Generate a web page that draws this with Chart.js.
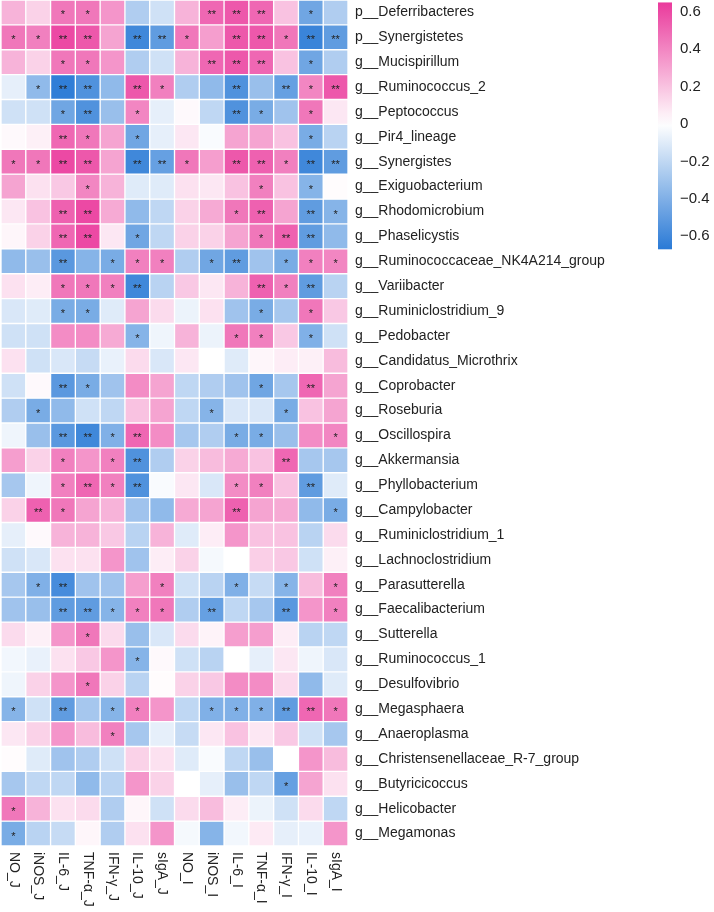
<!DOCTYPE html>
<html>
<head>
<meta charset="utf-8">
<script src="https://cdn.jsdelivr.net/npm/chart.js@4.4.1/dist/chart.umd.min.js"></script>
<style>
  html, body { margin: 0; padding: 0; background: #ffffff; }
  #wrap { width: 714px; height: 912px; position: relative; }
</style>
</head>
<body>
<div id="wrap"><canvas id="heatmap"></canvas></div>
<script>
"use strict";

const colLabels = ["NO_J", "iNOS_J", "IL-6_J", "TNF-α_J", "IFN-γ_J", "IL-10_J", "sIgA_J",
  "NO_I", "iNOS_I", "IL-6_I", "TNF-α_I", "IFN-γ_I", "IL-10_I", "sIgA_I"];

const rowLabels = [
  "p__Deferribacteres", "p__Synergistetes", "g__Mucispirillum", "g__Ruminococcus_2",
  "g__Peptococcus", "g__Pir4_lineage", "g__Synergistes", "g__Exiguobacterium",
  "g__Rhodomicrobium", "g__Phaselicystis", "g__Ruminococcaceae_NK4A214_group", "g__Variibacter",
  "g__Ruminiclostridium_9", "g__Pedobacter", "g__Candidatus_Microthrix", "g__Coprobacter",
  "g__Roseburia", "g__Oscillospira", "g__Akkermansia", "g__Phyllobacterium",
  "g__Campylobacter", "g__Ruminiclostridium_1", "g__Lachnoclostridium", "g__Parasutterella",
  "g__Faecalibacterium", "g__Sutterella", "g__Ruminococcus_1", "g__Desulfovibrio",
  "g__Megasphaera", "g__Anaeroplasma", "g__Christensenellaceae_R-7_group", "g__Butyricicoccus",
  "g__Helicobacter", "g__Megamonas"
];

// correlation values, one row per genus, columns as colLabels
const corr = [
  [0.25, 0.15, 0.45, 0.45, 0.35, -0.25, -0.15, 0.25, 0.5, 0.55, 0.5, 0.2, -0.45, -0.25],
  [0.45, 0.42, 0.6, 0.55, 0.3, -0.6, -0.5, 0.45, 0.32, 0.55, 0.55, 0.45, -0.62, -0.5],
  [0.25, 0.15, 0.45, 0.45, 0.35, -0.25, -0.15, 0.25, 0.5, 0.55, 0.5, 0.2, -0.45, -0.25],
  [-0.08, -0.35, -0.65, -0.55, -0.35, 0.55, 0.42, -0.25, -0.35, -0.55, -0.32, -0.48, 0.4, 0.55],
  [-0.15, -0.15, -0.45, -0.55, -0.32, 0.4, -0.08, 0.02, -0.2, -0.55, -0.42, -0.3, 0.45, 0.08],
  [0.02, 0.05, 0.5, 0.45, 0.3, -0.45, -0.08, 0.08, -0.02, 0.3, 0.3, 0.2, -0.42, -0.22],
  [0.45, 0.45, 0.6, 0.55, 0.3, -0.6, -0.48, 0.45, 0.32, 0.55, 0.52, 0.42, -0.6, -0.5],
  [0.3, 0.1, 0.18, 0.4, 0.25, -0.1, -0.1, 0.1, 0.08, 0.2, 0.42, 0.2, -0.38, 0.01],
  [0.08, 0.2, 0.52, 0.6, 0.28, -0.35, -0.2, 0.15, 0.28, 0.45, 0.52, 0.3, -0.5, -0.38],
  [0.03, 0.15, 0.5, 0.6, 0.08, -0.45, -0.2, 0.15, 0.15, 0.3, 0.45, 0.52, -0.5, -0.35],
  [-0.35, -0.32, -0.52, -0.38, -0.42, 0.42, 0.42, -0.25, -0.45, -0.5, -0.3, -0.42, 0.42, 0.4],
  [0.1, 0.06, 0.45, 0.45, 0.42, -0.6, -0.22, 0.18, 0.08, 0.25, 0.52, 0.42, -0.5, -0.22],
  [-0.12, -0.1, -0.42, -0.42, -0.1, 0.3, 0.12, -0.06, 0.1, -0.3, -0.42, -0.28, 0.45, 0.18],
  [-0.15, -0.15, 0.38, 0.38, 0.28, -0.38, -0.05, 0.25, -0.06, 0.45, 0.42, 0.18, -0.4, -0.15],
  [0.1, -0.15, -0.12, -0.18, -0.07, 0.12, -0.12, 0.08, 0.0, -0.1, 0.03, 0.06, 0.05, 0.22],
  [-0.15, 0.02, -0.52, -0.42, -0.3, 0.38, 0.3, -0.2, -0.25, -0.3, -0.45, -0.28, 0.5, 0.3],
  [-0.25, -0.42, -0.35, -0.15, -0.2, 0.2, 0.3, -0.2, -0.38, -0.12, -0.12, -0.42, 0.2, 0.3],
  [-0.05, -0.32, -0.52, -0.6, -0.4, 0.5, 0.38, -0.28, -0.25, -0.42, -0.42, -0.32, 0.38, 0.4],
  [0.32, 0.15, 0.42, 0.35, 0.42, -0.55, -0.25, 0.15, 0.22, 0.28, 0.2, 0.5, -0.28, -0.28],
  [-0.28, -0.05, 0.42, 0.5, 0.42, -0.55, -0.02, 0.08, -0.12, 0.38, 0.42, 0.2, -0.5, -0.1],
  [0.15, 0.52, 0.45, 0.3, 0.25, -0.3, -0.35, 0.28, 0.3, 0.52, 0.3, 0.28, -0.35, -0.42],
  [-0.08, 0.02, 0.25, 0.25, 0.18, -0.22, 0.25, -0.1, 0.06, 0.35, 0.2, 0.2, -0.22, 0.12],
  [-0.15, -0.12, 0.1, 0.1, 0.35, -0.3, 0.06, 0.15, -0.03, 0.0, 0.16, 0.18, -0.15, 0.05],
  [-0.28, -0.4, -0.58, -0.3, -0.3, 0.32, 0.42, -0.15, -0.22, -0.4, -0.18, -0.38, 0.22, 0.42],
  [-0.3, -0.32, -0.5, -0.5, -0.38, 0.42, 0.45, -0.25, -0.48, -0.2, -0.28, -0.52, 0.35, 0.42],
  [0.12, 0.05, 0.35, 0.45, 0.12, -0.32, -0.12, 0.12, 0.04, 0.32, 0.32, 0.06, -0.22, -0.2],
  [-0.04, -0.07, 0.1, 0.18, 0.35, -0.38, 0.02, -0.15, -0.22, 0.0, -0.08, 0.08, -0.05, -0.12],
  [-0.05, 0.15, 0.35, 0.45, 0.15, -0.22, 0.01, 0.15, 0.18, 0.38, 0.38, 0.12, -0.35, -0.1],
  [-0.38, -0.15, -0.5, -0.28, -0.38, 0.42, 0.35, -0.2, -0.4, -0.4, -0.4, -0.5, 0.5, 0.45],
  [0.08, 0.15, 0.35, 0.22, 0.42, -0.28, -0.08, -0.18, 0.08, 0.2, 0.08, 0.18, -0.15, -0.28],
  [0.01, -0.1, -0.3, -0.25, -0.15, 0.15, 0.1, -0.1, -0.02, -0.2, -0.32, 0.0, 0.35, 0.22],
  [-0.28, -0.2, -0.2, -0.35, -0.22, 0.35, 0.15, 0.0, -0.08, -0.32, -0.2, -0.48, 0.3, 0.1],
  [0.45, 0.25, 0.1, 0.12, -0.25, 0.03, -0.15, 0.12, 0.22, 0.06, -0.06, -0.15, 0.12, -0.2],
  [-0.42, -0.22, -0.18, 0.03, -0.25, 0.1, 0.35, -0.03, -0.38, -0.04, 0.07, -0.08, -0.07, 0.35]
];

// significance marks per row ("-" = none)
const stars = [
  "- - * * - - - - ** ** ** - * -",
  "* * ** ** - ** ** * - ** ** * ** **",
  "- - * * - - - - ** ** ** - * -",
  "- * ** ** - ** * - - ** - ** * **",
  "- - * ** - * - - - ** * - * -",
  "- - ** * - * - - - - - - * -",
  "* * ** ** - ** ** * - ** ** * ** **",
  "- - - * - - - - - - * - * -",
  "- - ** ** - - - - - * ** - ** *",
  "- - ** ** - * - - - - * ** ** -",
  "- - ** - * * * - * ** - * * *",
  "- - * * * ** - - - - ** * ** -",
  "- - * * - - - - - - * - * -",
  "- - - - - * - - - * * - * -",
  "- - - - - - - - - - - - - -",
  "- - ** * - - - - - - * - ** -",
  "- * - - - - - - * - - * - -",
  "- - ** ** * ** - - - * * - - *",
  "- - * - * ** - - - - - ** - -",
  "- - * ** * ** - - - * * - ** -",
  "- ** * - - - - - - ** - - - *",
  "- - - - - - - - - - - - - -",
  "- - - - - - - - - - - - - -",
  "- * ** - - - * - - * - * - *",
  "- - ** ** * * * - ** - - ** - *",
  "- - - * - - - - - - - - - -",
  "- - - - - * - - - - - - - -",
  "- - - * - - - - - - - - - -",
  "* - ** - * * - - * * * ** ** *",
  "- - - - * - - - - - - - - -",
  "- - - - - - - - - - - - - -",
  "- - - - - - - - - - - * - -",
  "* - - - - - - - - - - - - -",
  "* - - - - - - - - - - - - -"
].map((s) => s.split(" ").map((t) => (t === "-" ? "" : t)));

const cbTicks = [0.6, 0.4, 0.2, 0, -0.2, -0.4, -0.6];

const vMin = -0.67;
const vMax = 0.65;
const negEnd = [42, 122, 214];
const posEnd = [234, 58, 156];

function colorFor(v) {
  const end = v < 0 ? negEnd : posEnd;
  let t = v < 0 ? v / vMin : v / vMax;
  t = Math.max(0, Math.min(1, t));
  const c = end.map((e) => Math.round(255 + (e - 255) * t));
  return `rgb(${c[0]}, ${c[1]}, ${c[2]})`;
}

const FONT = "'Liberation Sans', Arial, sans-serif";

// asterisks in the cells
const starPlugin = {
  id: "stars",
  afterDatasetsDraw(chart) {
    const { ctx, scales } = chart;
    ctx.save();
    ctx.fillStyle = "#222222";
    ctx.font = `11px ${FONT}`;
    ctx.textAlign = "center";
    ctx.textBaseline = "middle";
    stars.forEach((row, r) => {
      row.forEach((s, c) => {
        if (!s) return;
        const x = scales.x.getPixelForValue(c);
        const y = scales.y.getPixelForValue(r + 0.5);
        ctx.fillText(s, x, y + 3);
      });
    });
    ctx.restore();
  },
};

// column labels, rotated clockwise like the reference
const colLabelPlugin = {
  id: "colLabels",
  afterDraw(chart) {
    const { ctx, scales, chartArea } = chart;
    ctx.save();
    ctx.fillStyle = "#222222";
    ctx.font = `14px ${FONT}`;
    ctx.textAlign = "left";
    ctx.textBaseline = "middle";
    colLabels.forEach((label, i) => {
      const x = scales.x.getPixelForValue(i);
      ctx.save();
      ctx.translate(x, chartArea.bottom + 6);
      ctx.rotate(Math.PI / 2);
      ctx.fillText(label, 0, 0);
      ctx.restore();
    });
    ctx.restore();
  },
};

// colour bar on the right
const colorBarPlugin = {
  id: "colorBar",
  afterDraw(chart) {
    const { ctx } = chart;
    const left = 658;
    const barW = 14;
    const zeroY = 124;
    const perUnit = 187;
    const top = zeroY - vMax * perUnit;
    const bottom = zeroY - vMin * perUnit;

    const grad = ctx.createLinearGradient(0, top, 0, bottom);
    for (let i = 0; i <= 20; i++) {
      const v = vMax + (vMin - vMax) * (i / 20);
      grad.addColorStop(i / 20, colorFor(v));
    }
    ctx.save();
    ctx.fillStyle = grad;
    ctx.fillRect(left, top, barW, bottom - top);

    ctx.fillStyle = "#222222";
    ctx.font = `15px ${FONT}`;
    ctx.textAlign = "left";
    ctx.textBaseline = "middle";
    cbTicks.forEach((v) => {
      const txt = v < 0 ? "\u2212" + Math.abs(v).toFixed(1) : v === 0 ? "0" : v.toFixed(1);
      ctx.fillText(txt, left + barW + 8, zeroY - v * perUnit);
    });
    ctx.restore();
  },
};

const datasets = rowLabels.map((name, r) => ({
  label: name,
  data: corr[r].map(() => [r, r + 1]),
  backgroundColor: corr[r].map(colorFor),
  borderColor: "#ffffff",
  borderWidth: 1,
  borderSkipped: false,
  barPercentage: 1,
  categoryPercentage: 1,
  grouped: false,
}));

const ctx = document.getElementById("heatmap").getContext("2d");

new Chart(ctx, {
  type: "bar",
  data: {
    labels: colLabels,
    datasets: datasets,
  },
  options: {
    responsive: true,
    maintainAspectRatio: false,
    animation: false,
    layout: {
      padding: { top: 0, left: 1, right: 0, bottom: 66 },
    },
    plugins: {
      legend: { display: false },
      tooltip: { enabled: false },
    },
    scales: {
      x: {
        type: "category",
        display: false,
        offset: true,
      },
      y: {
        type: "linear",
        position: "right",
        min: 0,
        max: rowLabels.length,
        reverse: true,
        grid: { display: false, drawTicks: false },
        border: { display: false },
        afterBuildTicks: (scale) => {
          scale.ticks = rowLabels.map((_, i) => ({ value: i + 0.5 }));
        },
        afterFit: (scale) => {
          scale.width = 366;
          scale.paddingTop = 0;
          scale.paddingBottom = 0;
        },
        ticks: {
          autoSkip: false,
          padding: 7,
          color: "#222222",
          font: { family: FONT, size: 14 },
          callback: (value) => rowLabels[Math.floor(value)],
        },
      },
    },
  },
  plugins: [starPlugin, colLabelPlugin, colorBarPlugin],
});
</script>
</body>
</html>
